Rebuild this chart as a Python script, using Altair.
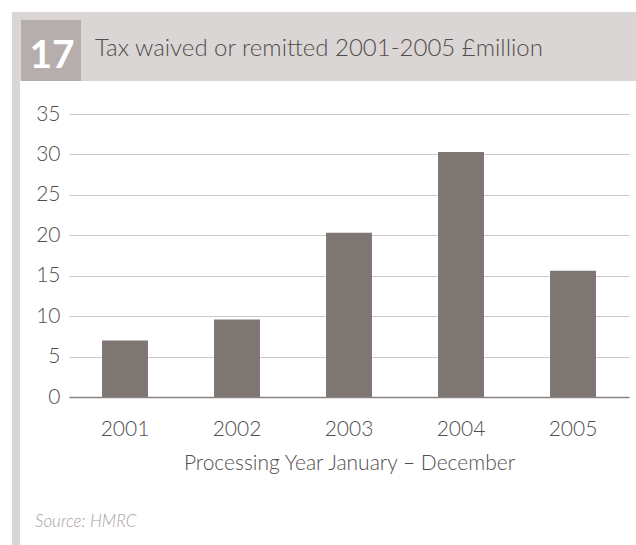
import altair as alt
import pandas as pd

years = ["2001", "2002", "2003", "2004", "2005"]
values = [7.0, 9.6, 20.3, 30.3, 15.6]
y_ticks = [0, 5, 10, 15, 20, 25, 30, 35]

title_text = "Tax waived or remitted 2001-2005 £million"
number_text = "17"
x_title = "Processing Year January – December"
source_text = "Source: HMRC"

FONT = "Lato"
TEXT_COL = "#544c4b"
BAND_COL = "#dad6d5"
BOX_COL = "#b6aead"
BAR_COL = "#7e7673"

df = pd.DataFrame({"year": years, "value": values})
one = pd.DataFrame({"k": [0]})

band = alt.Chart(one).mark_rect(color=BAND_COL).encode(
    x=alt.value(-57), x2=alt.value(567), y=alt.value(-102), y2=alt.value(-33)
)
strip = alt.Chart(one).mark_rect(color=BAND_COL).encode(
    x=alt.value(-57), x2=alt.value(-49), y=alt.value(-33), y2=alt.value(431)
)
box = alt.Chart(one).mark_rect(color=BOX_COL).encode(
    x=alt.value(-48), x2=alt.value(12), y=alt.value(-94), y2=alt.value(-33)
)
num = alt.Chart(one).mark_text(
    text=number_text, font=FONT, fontSize=39, fontWeight="bold", color="white",
    align="center", baseline="alphabetic"
).encode(x=alt.value(-17), y=alt.value(-46))
title = alt.Chart(one).mark_text(
    text=title_text, font=FONT, fontSize=24, fontWeight=300, color=TEXT_COL,
    align="left", baseline="alphabetic"
).encode(x=alt.value(26), y=alt.value(-58))
source = alt.Chart(one).mark_text(
    text=source_text, font=FONT, fontSize=17, fontWeight=300, fontStyle="italic",
    color="#aaa2a1", align="left", baseline="alphabetic"
).encode(x=alt.value(-34), y=alt.value(413))

bars = alt.Chart(df).mark_bar(color=BAR_COL).encode(
    x=alt.X("year:N", sort=years,
            scale=alt.Scale(paddingInner=0.59, paddingOuter=0.295),
            axis=alt.Axis(title=x_title, labelAngle=0, ticks=False,
                          domainColor="#8c8483", domainWidth=1.5,
                          labelFontSize=21, titleFontSize=21,
                          labelPadding=21, titlePadding=13)),
    y=alt.Y("value:Q", scale=alt.Scale(domain=[0, 35], nice=False),
            axis=alt.Axis(title=None, values=y_ticks, ticks=False, domain=False,
                          labelFontSize=21,
                          gridColor="#cec7c6", gridWidth=1.2, labelPadding=9)),
)

chart = alt.layer(band, strip, box, num, title, source, bars).properties(
    width=560, height=283,
    autosize=alt.AutoSizeParams(type="none"),
    padding={"left": 69, "top": 114, "right": 7, "bottom": 148},
    background="white",
).configure_view(stroke=None).configure_axis(
    labelFont=FONT, titleFont=FONT,
    labelColor=TEXT_COL, titleColor=TEXT_COL,
    labelFontWeight=300, titleFontWeight=300,
)

chart.save("out.html", embed_options={"renderer": "svg", "actions": False})
